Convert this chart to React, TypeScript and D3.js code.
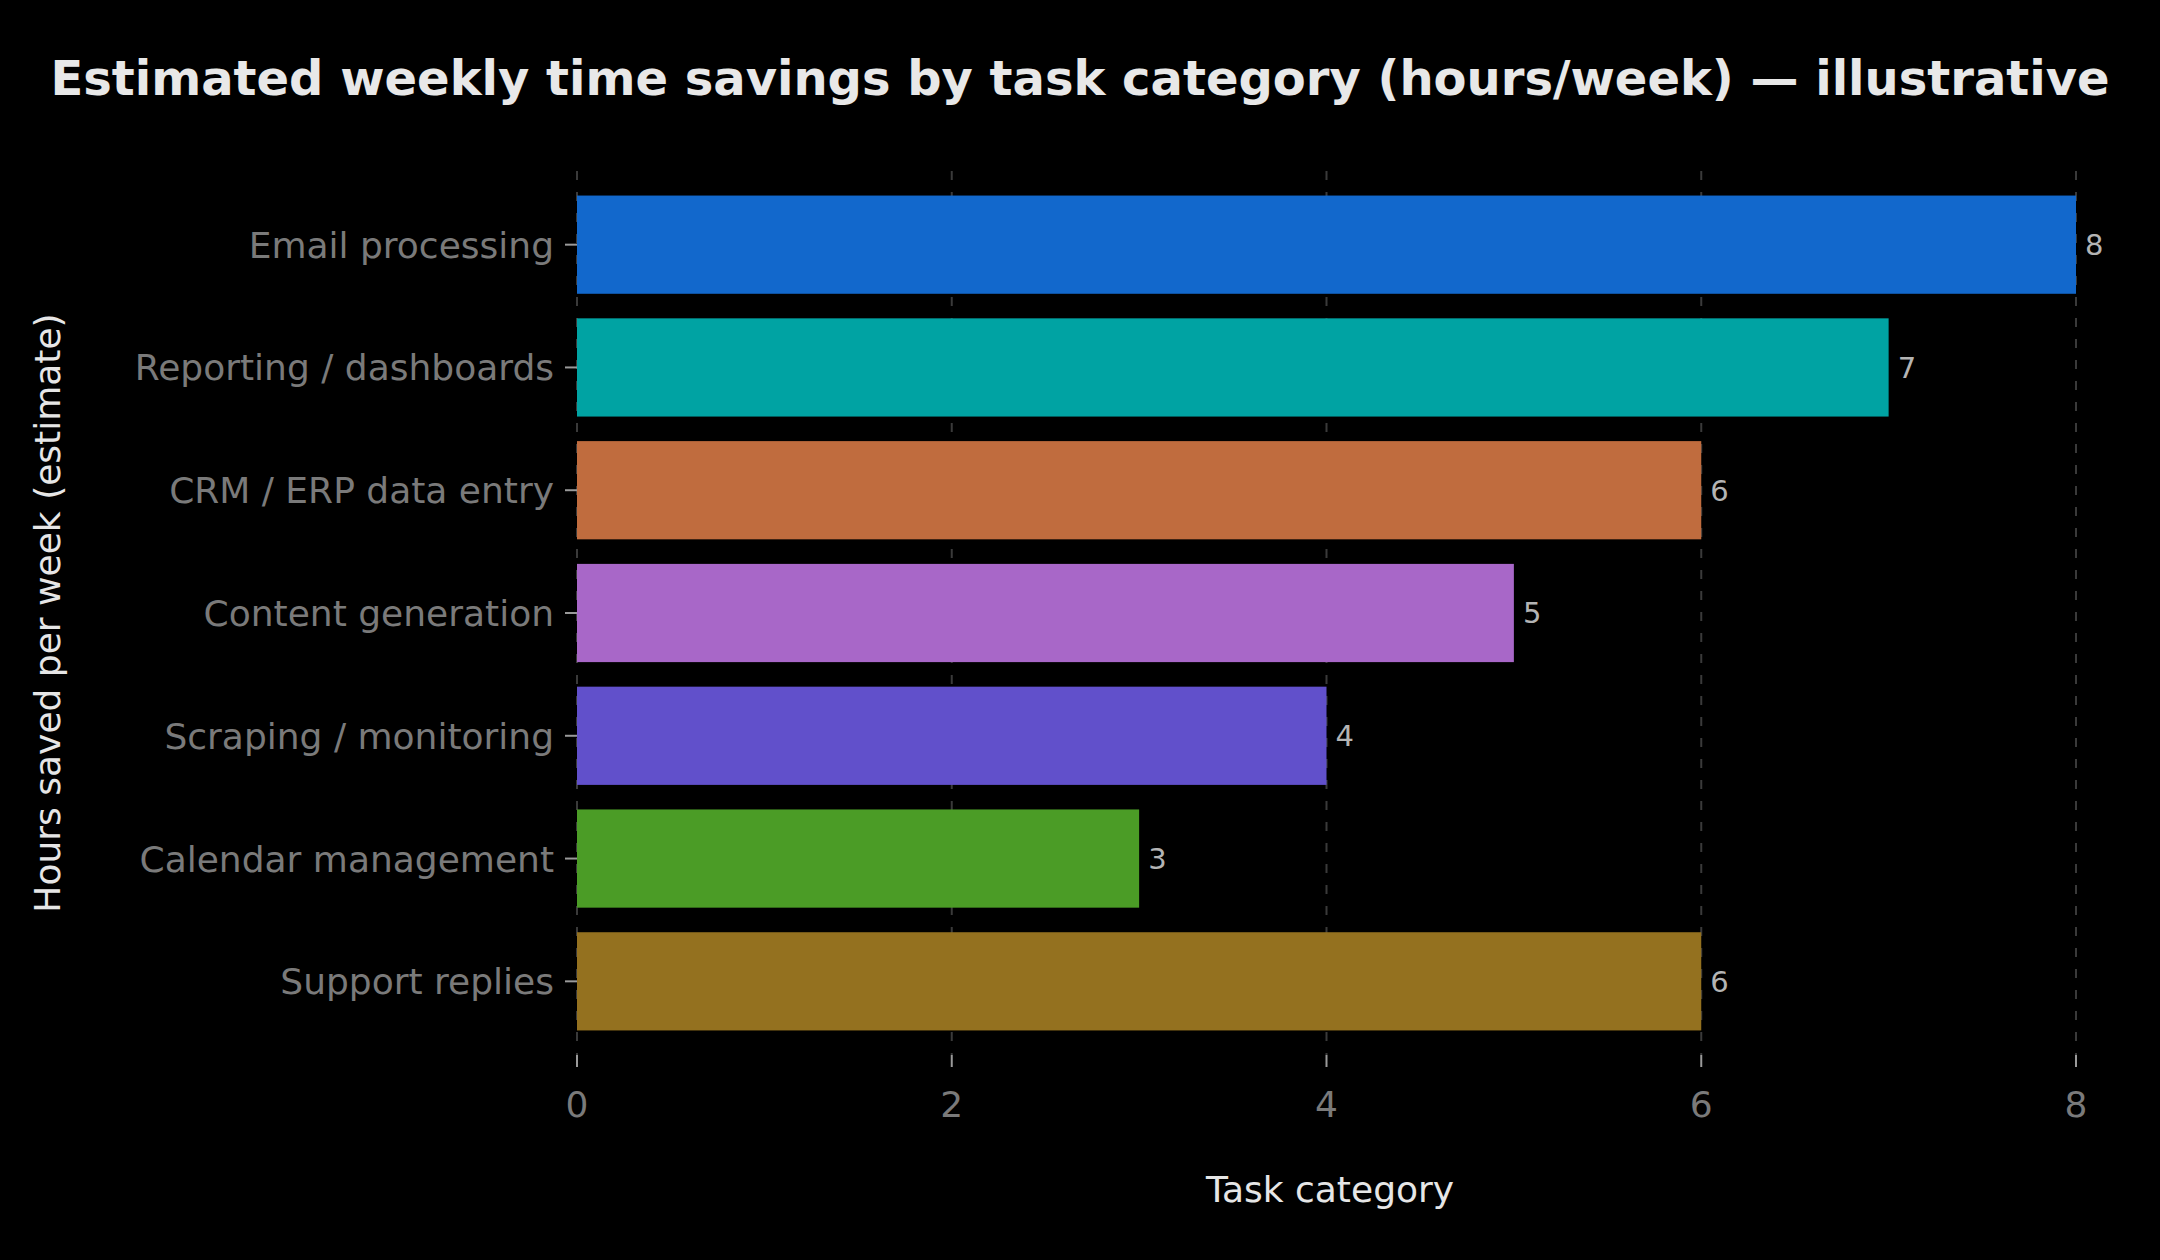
import React, { useEffect, useRef } from 'react';
import * as d3 from 'd3';

// categories top to bottom and their estimated hours saved per week
const categories = [
  'Email processing',
  'Reporting / dashboards',
  'CRM / ERP data entry',
  'Content generation',
  'Scraping / monitoring',
  'Calendar management',
  'Support replies',
];
const hours = [8, 7, 6, 5, 4, 3, 6];
const barColors = ['#1268cc', '#00a3a3', '#c06c3e', '#a867c8', '#6150cb', '#4b9c26', '#94711f'];
const xTicks = [0, 2, 4, 6, 8];

const title = 'Estimated weekly time savings by task category (hours/week) — illustrative';
const xLabel = 'Task category';
const yLabel = 'Hours saved per week (estimate)';

const App: React.FC = () => {
  const svgRef = useRef<SVGSVGElement>(null);
  const width = 2160;
  const height = 1260;

  useEffect(() => {
    document.body.style.margin = '0';
    document.body.style.background = '#000';

    const svg = d3.select(svgRef.current);
    svg.selectAll('*').remove();

    const font = '"DejaVu Sans", sans-serif';
    const left = 577;
    const right = 2076;
    const top = 171;
    const bottom = 1055;

    const x = d3.scaleLinear().domain([0, 8]).range([left, right]);
    const y = d3.scaleBand<string>()
      .domain(categories)
      .range([top, bottom])
      .paddingInner(0.2)
      .paddingOuter(0.2);

    svg.append('rect')
      .attr('width', width)
      .attr('height', height)
      .attr('fill', '#000');

    // title
    svg.append('text')
      .attr('x', width / 2)
      .attr('y', 95)
      .attr('text-anchor', 'middle')
      .attr('font-family', font)
      .attr('font-weight', 'bold')
      .attr('font-size', 48)
      .attr('fill', '#e8e8e8')
      .text(title);

    // dashed vertical grid
    svg.append('g')
      .selectAll('line')
      .data(xTicks)
      .enter()
      .append('line')
      .attr('x1', d => x(d))
      .attr('x2', d => x(d))
      .attr('y1', top)
      .attr('y2', bottom)
      .attr('stroke', '#3a3a3a')
      .attr('stroke-width', 2)
      .attr('stroke-dasharray', '9 12');

    // bars
    svg.append('g')
      .selectAll('rect')
      .data(categories)
      .enter()
      .append('rect')
      .attr('x', x(0))
      .attr('y', d => y(d) || 0)
      .attr('width', (d, i) => x(hours[i]) - x(0))
      .attr('height', y.bandwidth())
      .attr('fill', (d, i) => barColors[i]);

    // value labels
    svg.append('g')
      .selectAll('text')
      .data(categories)
      .enter()
      .append('text')
      .attr('x', (d, i) => x(hours[i]) + 9)
      .attr('y', d => (y(d) || 0) + y.bandwidth() / 2)
      .attr('dy', '0.36em')
      .attr('font-family', font)
      .attr('font-size', 29)
      .attr('fill', '#b4b4b4')
      .text((d, i) => String(hours[i]));

    // y axis ticks and labels
    const yAxis = svg.append('g');
    yAxis.selectAll('line')
      .data(categories)
      .enter()
      .append('line')
      .attr('x1', left - 12)
      .attr('x2', left)
      .attr('y1', d => (y(d) || 0) + y.bandwidth() / 2)
      .attr('y2', d => (y(d) || 0) + y.bandwidth() / 2)
      .attr('stroke', '#9a9a9a')
      .attr('stroke-width', 2);
    yAxis.selectAll('text')
      .data(categories)
      .enter()
      .append('text')
      .attr('x', left - 23)
      .attr('y', d => (y(d) || 0) + y.bandwidth() / 2)
      .attr('dy', '0.36em')
      .attr('text-anchor', 'end')
      .attr('font-family', font)
      .attr('font-size', 36)
      .attr('fill', '#7a7a7a')
      .text(d => d);

    // x axis ticks and labels
    const xAxis = svg.append('g');
    xAxis.selectAll('line')
      .data(xTicks)
      .enter()
      .append('line')
      .attr('x1', d => x(d))
      .attr('x2', d => x(d))
      .attr('y1', bottom)
      .attr('y2', bottom + 12)
      .attr('stroke', '#9a9a9a')
      .attr('stroke-width', 2);
    xAxis.selectAll('text')
      .data(xTicks)
      .enter()
      .append('text')
      .attr('x', d => x(d))
      .attr('y', 1117)
      .attr('text-anchor', 'middle')
      .attr('font-family', font)
      .attr('font-size', 36)
      .attr('fill', '#7a7a7a')
      .text(d => String(d));

    // axis titles
    svg.append('text')
      .attr('x', 1330)
      .attr('y', 1202)
      .attr('text-anchor', 'middle')
      .attr('font-family', font)
      .attr('font-size', 36)
      .attr('fill', '#e6e6e6')
      .text(xLabel);

    svg.append('text')
      .attr('transform', `translate(60,${(top + bottom) / 2}) rotate(-90)`)
      .attr('text-anchor', 'middle')
      .attr('font-family', font)
      .attr('font-size', 36)
      .attr('fill', '#e6e6e6')
      .text(yLabel);
  }, []);

  return (
    <svg
      ref={svgRef}
      width={width}
      height={height}
      viewBox={`0 0 ${width} ${height}`}
      style={{ display: 'block', background: '#000' }}
    />
  );
};

export default App;
